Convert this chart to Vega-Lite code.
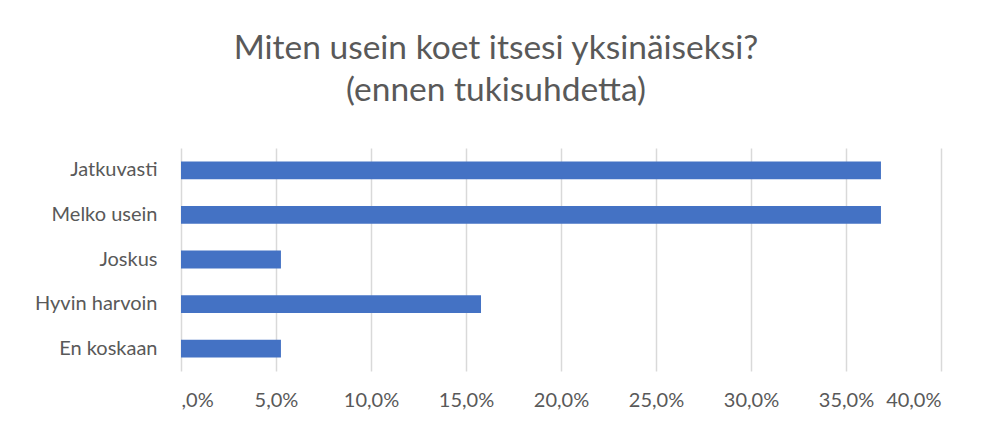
{
  "$schema": "https://vega.github.io/schema/vega-lite/v6.json",
  "width": 760,
  "height": 223,
  "autosize": {"type": "none"},
  "padding": {"left": 181, "top": 148, "right": 46, "bottom": 56},
  "background": "white",
  "title": {
    "text": ["Miten usein koet itsesi yksinäiseksi?", "(ennen tukisuhdetta)"],
    "font": "Lato",
    "fontSize": 33.5,
    "fontWeight": "normal",
    "color": "#595959",
    "anchor": "middle",
    "lineHeight": 42,
    "offset": 40,
    "dx": -65
  },
  "data": {
    "values": [
      {"vastaus": "Jatkuvasti", "osuus": 0.3684},
      {"vastaus": "Melko usein", "osuus": 0.3684},
      {"vastaus": "Joskus", "osuus": 0.0526},
      {"vastaus": "Hyvin harvoin", "osuus": 0.1579},
      {"vastaus": "En koskaan", "osuus": 0.0526}
    ]
  },
  "mark": {"type": "bar", "color": "#4472C4"},
  "encoding": {
    "y": {
      "field": "vastaus",
      "type": "nominal",
      "sort": null,
      "scale": {"paddingInner": 0.6, "paddingOuter": 0.3},
      "axis": {
        "title": null,
        "domain": false,
        "ticks": false,
        "grid": false,
        "labelPadding": 24,
        "labelFont": "Lato",
        "labelFontSize": 20,
        "labelColor": "#595959"
      }
    },
    "x": {
      "field": "osuus",
      "type": "quantitative",
      "scale": {"domain": [0, 0.4], "nice": false},
      "axis": {
        "title": null,
        "values": [0, 0.05, 0.1, 0.15, 0.2, 0.25, 0.3, 0.35, 0.4],
        "labelExpr": "datum.value == 0 ? ',0%' : replace(format(datum.value, '.1%'), '.', ',')",
        "domain": false,
        "ticks": false,
        "grid": true,
        "gridColor": "#d9d9d9",
        "gridWidth": 1.5,
        "labelPadding": 19,
        "labelFont": "Lato",
        "labelFontSize": 20,
        "labelColor": "#595959"
      }
    }
  },
  "config": {"view": {"stroke": null}}
}
